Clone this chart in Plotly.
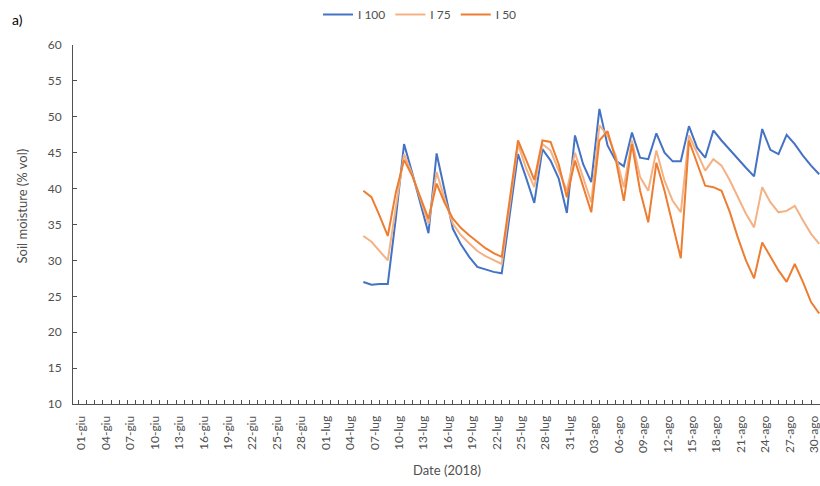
import pandas as pd
import plotly.graph_objects as go

# Daily soil moisture readings (% vol), 2018
dates = pd.date_range("2018-07-05", "2018-08-30", freq="D").strftime("%Y-%m-%d").tolist()

i100 = [27.0, 26.6, 26.7, 26.7, 36.0, 46.2, 42.2, 38.0, 33.8, 44.9,
        39.5, 34.4, 32.2, 30.5, 29.1, 28.7, 28.4, 28.2, 36.5, 44.8,
        41.5, 38.0, 45.5, 43.9, 41.4, 36.6, 47.4, 43.4, 40.9, 51.1,
        46.0, 43.9, 43.1, 47.8, 44.3, 44.1, 47.7, 45.0, 43.8, 43.8,
        48.7, 45.7, 44.3, 48.1, 46.7, 45.4, 44.1, 42.9, 41.7, 48.3,
        45.4, 44.8, 47.5, 46.2, 44.6, 43.2, 42.0]

i75 = [33.4, 32.6, 31.3, 30.0, 37.5, 44.8, 42.0, 38.6, 35.1, 42.3,
       38.5, 35.1, 33.5, 32.4, 31.3, 30.6, 30.0, 29.5, 37.8, 46.2,
       42.8, 40.2, 46.2, 45.3, 42.5, 39.7, 45.0, 41.6, 38.1, 48.8,
       47.4, 44.6, 40.2, 46.7, 41.6, 39.7, 45.3, 41.1, 38.3, 36.7,
       47.4, 45.0, 42.5, 44.1, 43.2, 41.2, 38.8, 36.5, 34.6, 40.2,
       38.1, 36.7, 36.9, 37.6, 35.6, 33.7, 32.3]

i50 = [39.7, 38.8, 36.2, 33.4, 39.5, 44.0, 41.8, 38.8, 35.8, 40.7,
       38.0, 35.8, 34.5, 33.5, 32.6, 31.7, 31.0, 30.5, 38.6, 46.7,
       44.0, 41.2, 46.7, 46.5, 43.4, 38.8, 43.9, 40.2, 36.7, 46.7,
       48.0, 44.1, 38.3, 46.2, 39.7, 35.3, 43.6, 39.7, 35.1, 30.3,
       46.7, 43.6, 40.4, 40.2, 39.7, 36.8, 33.2, 30.0, 27.5, 32.5,
       30.5, 28.6, 27.0, 29.5, 27.0, 24.2, 22.6]

series_names = ["I 100", "I 75", "I 50"]
series_colors = ["#4472C4", "#F4B183", "#ED7D31"]

# Axis labels shown every third day
tick_labels = ["01-giu", "04-giu", "07-giu", "10-giu", "13-giu", "16-giu",
               "19-giu", "22-giu", "25-giu", "28-giu", "01-lug", "04-lug",
               "07-lug", "10-lug", "13-lug", "16-lug", "19-lug", "22-lug",
               "25-lug", "28-lug", "31-lug", "03-ago", "06-ago", "09-ago",
               "12-ago", "15-ago", "18-ago", "21-ago", "24-ago", "27-ago",
               "30-ago"]

# one tick per day, text only on every third day
day_ticks = pd.date_range("2018-05-31", "2018-08-30", freq="D")
label_days = pd.date_range("2018-06-01", "2018-08-30", freq="3D")
label_map = dict(zip(label_days, tick_labels))
tickvals = day_ticks.strftime("%Y-%m-%d").tolist()
ticktext = [label_map.get(d, "") for d in day_ticks]

FONT = "Lato, Carlito, Calibri, sans-serif"
GREY = "#505050"

fig = go.Figure()
for name, vals, col in zip(series_names, [i100, i75, i50], series_colors):
    fig.add_trace(go.Scatter(x=dates, y=vals, mode="lines", name=name,
                             line=dict(color=col, width=2)))

x0 = pd.Timestamp("2018-06-01") - pd.Timedelta(days=1.67)
x1 = pd.Timestamp("2018-08-30") + pd.Timedelta(days=0.1)

fig.update_layout(
    width=820, height=486,
    margin=dict(l=73, r=0, t=44, b=82),
    paper_bgcolor="white", plot_bgcolor="white",
    font=dict(family=FONT, size=12, color=GREY),
    showlegend=True,
    legend=dict(orientation="h", x=0.4645, xanchor="center", y=1.086,
                yanchor="middle", font=dict(size=12, color=GREY),
                itemwidth=30, tracegroupgap=0, bgcolor="rgba(0,0,0,0)"),
    xaxis=dict(
        type="date", range=[x0.isoformat(), x1.isoformat()],
        tickmode="array", tickvals=tickvals, ticktext=ticktext,
        tickangle=-90, ticks="inside", ticklen=4, tickcolor=GREY,
        ticklabelshift=-5, ticklabelstandoff=6, ticklabeloverflow="allow",
        showline=True, linecolor=GREY, linewidth=1,
        showgrid=False, zeroline=False,
        tickfont=dict(size=12, color=GREY, family=FONT),
    ),
    yaxis=dict(
        range=[10, 60], tickmode="linear", tick0=10, dtick=5,
        ticks="inside", ticklen=4, tickcolor=GREY,
        showline=True, linecolor=GREY, linewidth=1,
        showgrid=False, zeroline=False, ticklabelstandoff=8,
        tickfont=dict(size=12, color=GREY, family=FONT),
    ),
    annotations=[
        dict(text="a)", xref="paper", yref="paper", x=-0.0843, y=1.072,
             xanchor="left", yanchor="middle", showarrow=False,
             font=dict(size=14, color="#000000", family=FONT)),
        dict(text="Soil moisture (% vol)", xref="paper", yref="paper",
             x=-0.0683, y=0.553, textangle=-90, xanchor="center",
             yanchor="middle", showarrow=False,
             font=dict(size=13, color=GREY, family=FONT)),
        dict(text="Date (2018)", xref="paper", yref="paper",
             x=0.5007, y=-0.183, xanchor="center", yanchor="middle",
             showarrow=False, font=dict(size=13, color=GREY, family=FONT)),
    ],
)

fig.write_html("out.html")
